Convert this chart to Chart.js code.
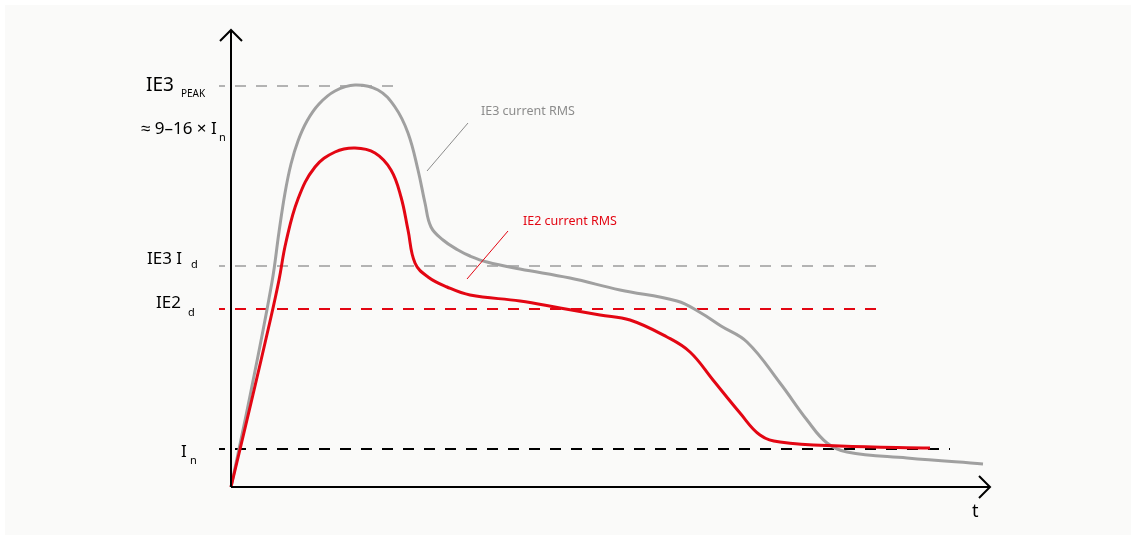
<!DOCTYPE html>
<html>
<head>
<meta charset="utf-8">
<title>IE2 / IE3 starting current</title>
<script src="https://cdn.jsdelivr.net/npm/chart.js@4.4.1/dist/chart.umd.min.js"></script>
<style>
  html, body { margin: 0; padding: 0; background: #ffffff; }
  #wrap { width: 1136px; height: 540px; }
</style>
</head>
<body>
<div id="wrap"><canvas id="startChart" width="1136" height="540"></canvas></div>
<script>
// time axis (arbitrary units) and RMS current (arbitrary units, In = 38)
const ie3Time = [0, 20, 41, 48, 54, 60, 67, 76, 88, 104, 124, 147, 164, 177, 187, 194, 200, 212, 227, 239, 256, 289, 339, 389, 446, 470, 490, 516, 549, 576, 596, 616, 676, 752];
const ie3Current = [0, 96, 205, 255, 294, 323, 346, 366, 383, 396, 402, 397, 380, 354, 317, 284, 260, 247, 237, 231, 225, 218, 209, 197, 186, 174, 161, 145, 104, 67, 44, 35, 29, 23];

const ie2Time = [0, 20, 40, 48, 55, 67, 84, 104, 124, 144, 160, 170, 177, 184, 197, 216, 239, 289, 329, 369, 399, 436, 459, 482, 509, 529, 549, 609, 699];
const ie2Current = [0, 84, 170, 207, 245, 288, 320, 335, 339, 334, 317, 290, 257, 224, 210, 200, 192, 186, 179, 172, 167, 150, 135, 107, 74, 52, 45, 41, 39];

// reference levels: value, where the dashed line ends
const levelNames = ['IE3 peak', 'IE3 Id', 'IE2 d', 'In'];
const levelValues = [401, 221, 178, 38];
const levelEnds = [172, 649, 649, 719];
const levelColors = ['#b3b3b3', '#b3b3b3', '#e30613', '#000000'];

const T_MAX = 759;
const I_MAX = 457;

function toPoints(xs, ys) {
  return xs.map((x, i) => ({ x: x, y: ys[i] }));
}

const refSets = levelValues.map((v, i) => ({
  label: levelNames[i],
  data: [{ x: -12, y: v }, { x: levelEnds[i], y: v }],
  showLine: true,
  borderColor: levelColors[i],
  borderWidth: 2,
  borderDash: [11, 10],
  borderDashOffset: 5,
  pointRadius: 0,
  clip: false,
  order: 2
}));

// background panel
const panelPlugin = {
  id: 'panel',
  beforeDraw(chart) {
    const c = chart.ctx;
    c.save();
    c.fillStyle = '#ffffff';
    c.fillRect(0, 0, chart.width, chart.height);
    c.fillStyle = '#fafaf9';
    c.fillRect(5, 5, chart.width - 10, chart.height - 10);
    c.restore();
  }
};

// axes with arrows, labels and callouts
const decorPlugin = {
  id: 'decor',
  afterDatasetsDraw(chart) {
    const c = chart.ctx;
    const xs = chart.scales.x, ys = chart.scales.y;
    const x0 = xs.getPixelForValue(0), y0 = ys.getPixelForValue(0);
    const xEnd = xs.getPixelForValue(T_MAX), yEnd = ys.getPixelForValue(I_MAX);
    c.save();
    c.strokeStyle = '#000';
    c.lineWidth = 2;
    c.beginPath();
    c.moveTo(x0, y0); c.lineTo(xEnd, y0);
    c.moveTo(x0, y0); c.lineTo(x0, yEnd);
    c.stroke();
    c.beginPath();
    c.moveTo(xEnd - 11, y0 - 11); c.lineTo(xEnd, y0); c.lineTo(xEnd - 11, y0 + 11);
    c.moveTo(x0 - 11, yEnd + 11); c.lineTo(x0, yEnd); c.lineTo(x0 + 11, yEnd + 11);
    c.stroke();

    const font = (s) => s + 'px "Noto Sans", sans-serif';
    c.fillStyle = '#000';
    c.textBaseline = 'alphabetic';
    c.textAlign = 'left';

    const yPeak = ys.getPixelForValue(levelValues[0]);
    const yId3 = ys.getPixelForValue(levelValues[1]);
    const yId2 = ys.getPixelForValue(levelValues[2]);
    const yIn = ys.getPixelForValue(levelValues[3]);

    c.font = font(19);
    c.fillText('IE3', 146, yPeak + 5);
    c.font = font(10);
    c.fillText('PEAK', 181, yPeak + 11);
    c.font = font(17);
    c.fillText('\u2248 9\u201316 \u00d7 I', 141, yPeak + 48);
    c.font = font(11);
    c.fillText('n', 219, yPeak + 55);

    c.font = font(17);
    c.fillText('IE3 I', 147, yId3 - 2);
    c.font = font(11);
    c.fillText('d', 191, yId3 + 2);

    c.font = font(17);
    c.fillText('IE2', 156, yId2 - 1);
    c.font = font(11);
    c.fillText('d', 188, yId2 + 7);

    c.font = font(17);
    c.fillText('I', 181, yIn + 8);
    c.font = font(11);
    c.fillText('n', 190, yIn + 15);

    c.font = font(18);
    c.fillText('t', 972, y0 + 30);

    // callouts
    c.lineWidth = 1;
    c.strokeStyle = '#8c8c8c';
    c.beginPath();
    c.moveTo(427, 171); c.lineTo(468, 123);
    c.stroke();
    c.font = font(12.5);
    c.fillStyle = '#8c8c8c';
    c.fillText('IE3 current RMS', 481, 115);

    c.strokeStyle = '#e30613';
    c.beginPath();
    c.moveTo(467, 279); c.lineTo(508, 231);
    c.stroke();
    c.fillStyle = '#e30613';
    c.fillText('IE2 current RMS', 523, 225);
    c.restore();
  }
};

new Chart(document.getElementById('startChart').getContext('2d'), {
  type: 'scatter',
  data: {
    datasets: [
      {
        label: 'IE2 current RMS',
        data: toPoints(ie2Time, ie2Current),
        showLine: true,
        borderColor: '#e30613',
        borderWidth: 3,
        pointRadius: 0,
        tension: 0.4,
        clip: false,
        order: 0
      },
      {
        label: 'IE3 current RMS',
        data: toPoints(ie3Time, ie3Current),
        showLine: true,
        borderColor: '#a0a0a0',
        borderWidth: 3,
        pointRadius: 0,
        tension: 0.4,
        clip: false,
        order: 1
      }
    ].concat(refSets)
  },
  options: {
    responsive: false,
    animation: false,
    devicePixelRatio: 1,
    layout: { padding: { left: 231, right: 146, top: 30, bottom: 53 } },
    scales: {
      x: { type: 'linear', min: 0, max: T_MAX, display: false },
      y: { type: 'linear', min: 0, max: I_MAX, display: false }
    },
    plugins: {
      legend: { display: false },
      tooltip: { enabled: false }
    }
  },
  plugins: [panelPlugin, decorPlugin]
});
</script>
</body>
</html>
